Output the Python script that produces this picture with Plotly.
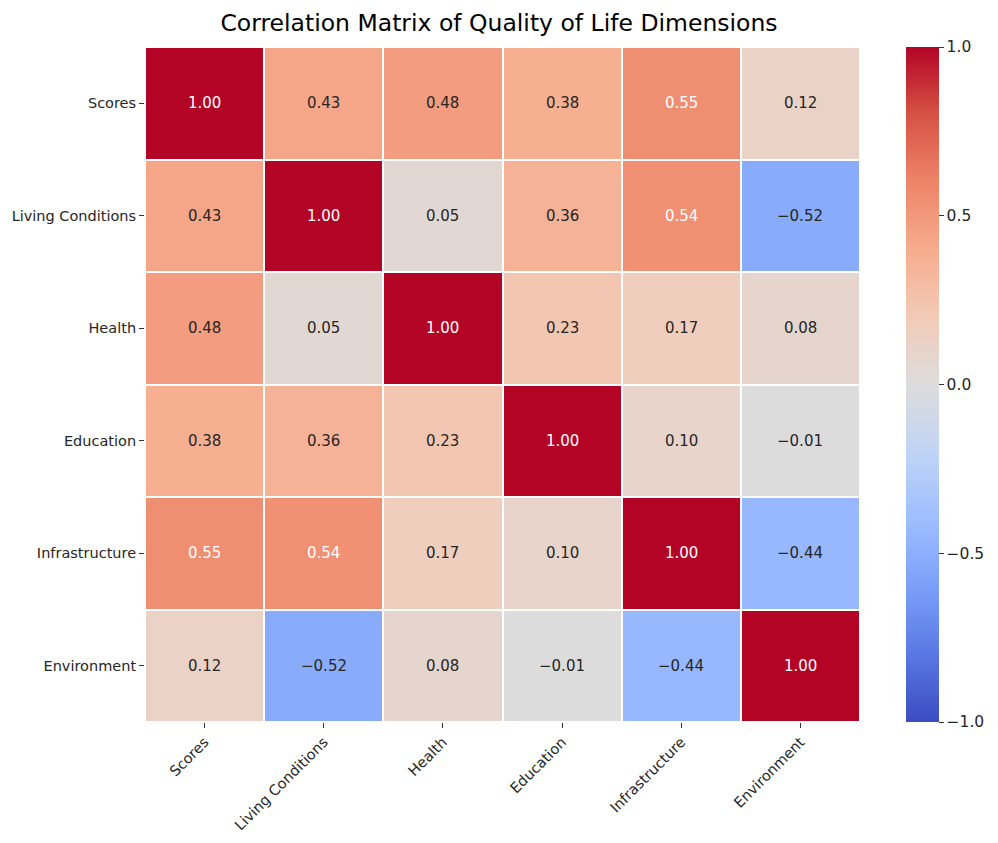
import plotly.graph_objects as go

labels = ["Scores", "Living Conditions", "Health", "Education", "Infrastructure", "Environment"]
corr = [
    [1.00, 0.43, 0.48, 0.38, 0.55, 0.12],
    [0.43, 1.00, 0.05, 0.36, 0.54, -0.52],
    [0.48, 0.05, 1.00, 0.23, 0.17, 0.08],
    [0.38, 0.36, 0.23, 1.00, 0.10, -0.01],
    [0.55, 0.54, 0.17, 0.10, 1.00, -0.44],
    [0.12, -0.52, 0.08, -0.01, -0.44, 1.00],
]
cbar_ticks = [-1.0, -0.5, 0.0, 0.5, 1.0]

coolwarm = [
    [0.0, "#3b4cc0"], [0.1, "#5a78e4"], [0.2, "#7b9ff9"], [0.3, "#9ebeff"],
    [0.4, "#c0d4f5"], [0.5, "#dddcdc"], [0.6, "#f2cbb7"], [0.7, "#f7ac8e"],
    [0.8, "#ee8468"], [0.9, "#d65244"], [1.0, "#b40426"],
]

def fmt(v, d=2):
    s = f"{v:.{d}f}"
    return s.replace("-", "\u2212")

fig = go.Figure(go.Heatmap(
    z=corr, x=labels, y=labels, zmin=-1, zmax=1, colorscale=coolwarm,
    xgap=2, ygap=2, hoverinfo="skip",
    colorbar=dict(
        x=1.064, xanchor="left", y=0.5, yanchor="middle", len=1, lenmode="fraction",
        thickness=33, outlinewidth=0, xpad=0, ypad=0, tickvals=cbar_ticks,
        ticktext=[fmt(t, 1) for t in cbar_ticks], ticks="outside", ticklen=5,
        tickcolor="#333",
        tickfont=dict(size=15.5, color="#262626", family="DejaVu Sans"),
    ),
))

for i, row in enumerate(corr):
    for j, v in enumerate(row):
        fig.add_annotation(
            x=labels[j], y=labels[i], text=fmt(v), showarrow=False,
            font=dict(size=15, family="DejaVu Sans",
                      color="#ffffff" if v > 0.5 else "#262626"),
        )

fig.update_layout(
    width=998, height=843,
    margin=dict(l=145, r=138, t=47, b=121),
    plot_bgcolor="white", paper_bgcolor="white",
    title=dict(text="Correlation Matrix of Quality of Life Dimensions",
               x=0.5, xanchor="center", y=0.973, yanchor="middle",
               font=dict(size=23.5, family="DejaVu Sans", color="#000000")),
    xaxis=dict(tickangle=-45, ticks="outside", ticklen=5, tickcolor="#333",
               automargin=False,
               tickfont=dict(size=14.5, family="DejaVu Sans", color="#262626"),
               showgrid=False, zeroline=False),
    yaxis=dict(autorange="reversed", ticks="outside", ticklen=5, tickcolor="#333",
               automargin=False,
               tickfont=dict(size=14.5, family="DejaVu Sans", color="#262626"),
               showgrid=False, zeroline=False),
)

fig.write_html("out.html")
